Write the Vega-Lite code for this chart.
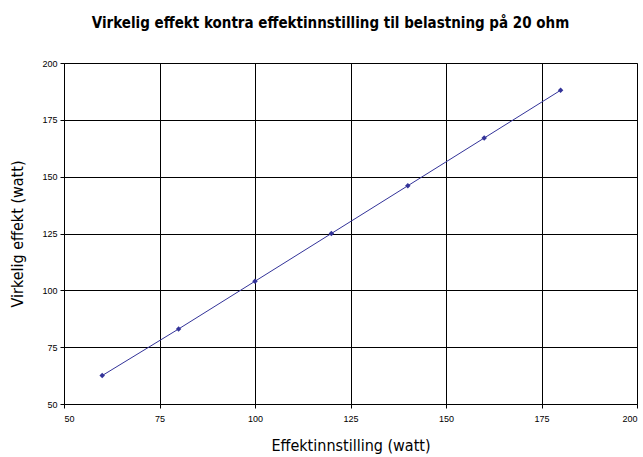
{
  "$schema": "https://vega.github.io/schema/vega-lite/v6.json",
  "width": 573,
  "height": 341,
  "autosize": "none",
  "padding": {"left": 64, "top": 63, "right": 6, "bottom": 53},
  "background": "white",
  "title": {
    "text": "Virkelig effekt kontra effektinnstilling til belastning på 20 ohm",
    "font": "Liberation Sans Narrow, DejaVu Sans Condensed, Roboto",
    "fontSize": 15,
    "fontWeight": "bold",
    "color": "black",
    "anchor": "middle",
    "dx": -20,
    "offset": 28
  },
  "config": {
    "view": {"stroke": "#808080", "strokeWidth": 1},
    "axis": {
      "labelFont": "Liberation Sans",
      "labelFontSize": 9,
      "labelColor": "black",
      "titleFont": "Liberation Sans Narrow, DejaVu Sans Condensed, Roboto",
      "titleFontSize": 16,
      "titleFontWeight": "normal",
      "titleColor": "black",
      "gridColor": "black",
      "gridOpacity": 1,
      "gridWidth": 1,
      "domainColor": "black",
      "tickColor": "black",
      "tickSize": 4
    }
  },
  "data": {
    "values": [
      {"setting": 60, "actual": 62.5},
      {"setting": 80, "actual": 83},
      {"setting": 100, "actual": 104},
      {"setting": 120, "actual": 125},
      {"setting": 140, "actual": 146},
      {"setting": 160, "actual": 167},
      {"setting": 180, "actual": 188}
    ]
  },
  "encoding": {
    "x": {
      "field": "setting",
      "type": "quantitative",
      "scale": {"domain": [50, 200], "nice": false, "zero": false},
      "axis": {"values": [50, 75, 100, 125, 150, 175, 200], "title": "Effektinnstilling (watt)", "titlePadding": 14, "labelPadding": 6}
    },
    "y": {
      "field": "actual",
      "type": "quantitative",
      "scale": {"domain": [50, 200], "nice": false, "zero": false},
      "axis": {"values": [50, 75, 100, 125, 150, 175, 200], "title": "Virkelig effekt (watt)", "titlePadding": 16, "labelPadding": 3}
    }
  },
  "layer": [
    {"mark": {"type": "line", "color": "#333399", "strokeWidth": 1}},
    {"mark": {"type": "point", "shape": "diamond", "filled": true, "color": "#333399", "size": 30, "opacity": 1}}
  ]
}
